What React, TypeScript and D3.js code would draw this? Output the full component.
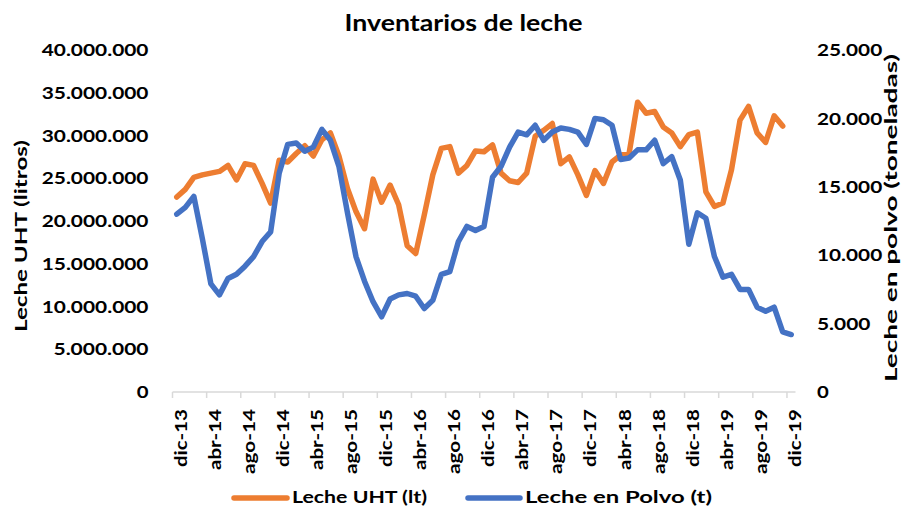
import React from "react";
import * as d3 from "d3";

const W = 911;
const H = 510;

const monthAbbr = ["ene", "feb", "mar", "abr", "may", "jun", "jul", "ago", "sep", "oct", "nov", "dic"];
// dic-13 .. dic-19 (73 months)
const categories: string[] = (() => {
  const out: string[] = ["dic-13"];
  for (let y = 14; y <= 19; y++) for (let m = 0; m < 12; m++) out.push(`${monthAbbr[m]}-${y}`);
  return out;
})();

// Leche UHT (millones de litros), dic-13 .. nov-19
const uhtMillions = [
  22.8, 23.7, 25.1, 25.4, 25.6, 25.8, 26.5, 24.8, 26.7, 26.5, 24.4, 22.1,
  27.1, 26.9, 27.9, 28.8, 27.6, 29.5, 30.3, 27.6, 23.8, 21.1, 19.1, 24.9,
  22.2, 24.2, 21.9, 17.1, 16.2, 20.7, 25.4, 28.5, 28.7, 25.6, 26.5, 28.2,
  28.1, 28.9, 25.6, 24.7, 24.5, 25.6, 29.9, 30.6, 31.4, 26.7, 27.5, 25.4,
  23.0, 25.9, 24.4, 26.9, 27.7, 27.9, 33.9, 32.6, 32.8, 31.0, 30.3, 28.7,
  30.1, 30.4, 23.4, 21.7, 22.1, 26.0, 31.8, 33.4, 30.3, 29.2, 32.3, 31.1,
];

// Leche en polvo (miles de toneladas), dic-13 .. dic-19
const polvoThousands = [
  13.0, 13.5, 14.3, 11.2, 7.9, 7.1, 8.3, 8.6, 9.2, 9.9, 11.0, 11.7,
  16.0, 18.1, 18.2, 17.6, 17.9, 19.2, 18.4, 16.5, 13.1, 9.9, 8.1, 6.6,
  5.5, 6.8, 7.1, 7.2, 7.0, 6.1, 6.7, 8.6, 8.8, 11.0, 12.1, 11.8,
  12.1, 15.7, 16.5, 17.9, 19.0, 18.8, 19.5, 18.4, 19.0, 19.3, 19.2, 19.0,
  18.1, 20.0, 19.9, 19.5, 17.0, 17.1, 17.7, 17.7, 18.4, 16.7, 17.2, 15.5,
  10.8, 13.1, 12.7, 9.9, 8.4, 8.6, 7.5, 7.5, 6.2, 5.9, 6.2, 4.4, 4.2,
];

const leftTicks = [0, 5e6, 10e6, 15e6, 20e6, 25e6, 30e6, 35e6, 40e6];
const rightTicks = [0, 5000, 10000, 15000, 20000, 25000];

const seriesNames = ["Leche UHT (lt)", "Leche en Polvo (t)"];
const titleText = "Inventarios de leche";
const leftTitle = "Leche UHT (litros)";
const rightTitle = "Leche en polvo (toneladas)";

const ORANGE = "#ED7D31";
const BLUE = "#4472C4";
const AXIS = "#D9D9D9";
const FONT = "Lato, 'Open Sans', sans-serif";

const fmt = (v: number) => d3.format(",")(v).replace(/,/g, ".");

// approximate label widths (digits / dots) to match reference text extents
const numWidth = (s: string) => {
  let w = 0;
  for (const ch of s) w += ch === "." ? 6.2 : 11.8;
  return w;
};
const catLen = (s: string) => (s.startsWith("ago") ? 65 : s.startsWith("abr") ? 61 : 58);

export default function App() {
  const x0 = 172.5;
  const x1 = 795.5;
  const yTop = 50;
  const yBot = 392;

  const xBand = d3.scaleBand<number>().domain(d3.range(categories.length)).range([x0, x1]).padding(0);
  const bw = xBand.bandwidth();
  const xc = (i: number) => (xBand(i) as number) + bw / 2;
  const yL = d3.scaleLinear().domain([0, 40e6]).range([yBot, yTop]);
  const yR = d3.scaleLinear().domain([0, 25000]).range([yBot, yTop]);

  const uht = uhtMillions.map((v) => v * 1e6);
  const polvo = polvoThousands.map((v) => v * 1000);

  const lineL = d3.line<number>().x((_, i) => xc(i)).y((d) => yL(d));
  const lineR = d3.line<number>().x((_, i) => xc(i)).y((d) => yR(d));

  const tickIdx = d3.range(0, categories.length, 4);

  return (
    <svg
      width={W}
      height={H}
      style={{ position: "absolute", left: 0, top: 0, background: "#fff" }}
      fontFamily={FONT}
      fontWeight={700}
    >
      <rect x={0} y={0} width={W} height={H} fill="#fff" />
      {/* title */}
      <text x={463.5} y={31} textAnchor="middle" fontSize={22} textLength={238} lengthAdjust="spacingAndGlyphs" fill="#000">
        {titleText}
      </text>

      {/* left axis labels */}
      {leftTicks.map((t) => {
        const s = fmt(t);
        return (
          <text
            key={"l" + t}
            x={148.5}
            y={yL(t) + 6.2}
            textAnchor="end"
            fontSize={17}
            textLength={numWidth(s)}
            lengthAdjust="spacingAndGlyphs"
            fill="#000"
          >
            {s}
          </text>
        );
      })}
      {/* right axis labels */}
      {rightTicks.map((t) => {
        const s = fmt(t);
        return (
          <text
            key={"r" + t}
            x={817}
            y={yR(t) + 6.2}
            textAnchor="start"
            fontSize={17}
            textLength={numWidth(s)}
            lengthAdjust="spacingAndGlyphs"
            fill="#000"
          >
            {s}
          </text>
        );
      })}

      {/* axis titles */}
      <text
        transform={`translate(26.5,236) rotate(-90)`}
        textAnchor="middle"
        fontSize={17}
        textLength={192}
        lengthAdjust="spacingAndGlyphs"
        fill="#000"
      >
        {leftTitle}
      </text>
      <text
        transform={`translate(896.5,218) rotate(-90)`}
        textAnchor="middle"
        fontSize={17}
        textLength={328}
        lengthAdjust="spacingAndGlyphs"
        fill="#000"
      >
        {rightTitle}
      </text>

      {/* x axis */}
      <line x1={x0} x2={x1} y1={yBot} y2={yBot} stroke={AXIS} strokeWidth={1.5} />
      {tickIdx.map((i) => (
        <line key={"t" + i} x1={xBand(i) as number} x2={xBand(i) as number} y1={yBot} y2={yBot + 6} stroke={AXIS} strokeWidth={1.5} />
      ))}
      {tickIdx.map((i) => (
        <text
          key={"c" + i}
          transform={`translate(${xc(i) + 10},409) rotate(-90)`}
          textAnchor="end"
          fontSize={17}
          textLength={catLen(categories[i])}
          lengthAdjust="spacingAndGlyphs"
          fill="#000"
        >
          {categories[i]}
        </text>
      ))}

      {/* lines */}
      <path d={lineL(uht) as string} fill="none" stroke={ORANGE} strokeWidth={5.5} strokeLinejoin="round" strokeLinecap="round" />
      <path d={lineR(polvo) as string} fill="none" stroke={BLUE} strokeWidth={5.5} strokeLinejoin="round" strokeLinecap="round" />

      {/* legend */}
      <line x1={234} x2={287} y1={498} y2={498} stroke={ORANGE} strokeWidth={5.5} strokeLinecap="round" />
      <text x={292} y={503} fontSize={17} textLength={135} lengthAdjust="spacingAndGlyphs" fill="#000">
        {seriesNames[0]}
      </text>
      <line x1={468} x2={520} y1={498} y2={498} stroke={BLUE} strokeWidth={5.5} strokeLinecap="round" />
      <text x={525} y={503} fontSize={17} textLength={187} lengthAdjust="spacingAndGlyphs" fill="#000">
        {seriesNames[1]}
      </text>
    </svg>
  );
}
